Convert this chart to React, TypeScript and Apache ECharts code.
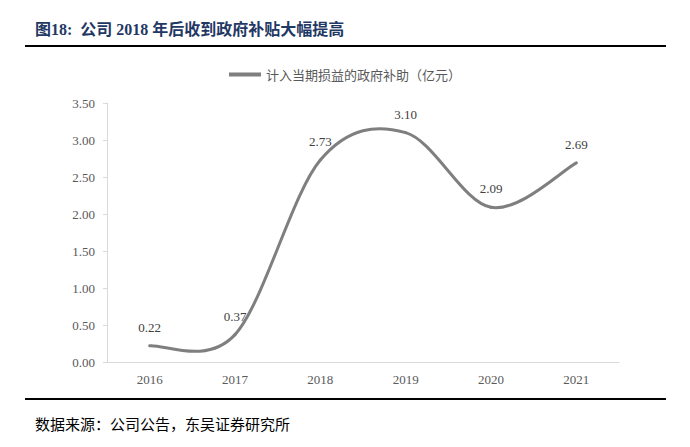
import React, { useEffect, useRef } from "react";
import * as echarts from "echarts";

const years = ["2016", "2017", "2018", "2019", "2020", "2021"];
const subsidy = [0.22, 0.37, 2.73, 3.1, 2.09, 2.69];
const seriesName = "计入当期损益的政府补助（亿元）";
const titleText = "图18:  公司 2018 年后收到政府补贴大幅提高";
const sourceText = "数据来源：公司公告，东吴证券研究所";

export default function App() {
  const ref = useRef<HTMLDivElement>(null);
  useEffect(() => {
    if (!ref.current) return;
    const chart = echarts.init(ref.current, null, { renderer: "svg" });
    const serif = "'Liberation Serif', 'Times New Roman', 'Noto Sans CJK SC', serif";
    const n = subsidy.length;
    chart.setOption({
      animation: false,
      backgroundColor: "#ffffff",
      grid: { left: 107, right: 71, top: 103, bottom: 85 },
      legend: {
        top: 63,
        left: "center",
        itemWidth: 32,
        itemHeight: 4,
        itemGap: 4,
        icon: "rect",
        textStyle: { fontFamily: "'Noto Sans CJK SC', sans-serif", fontSize: 13, color: "#595959" },
        data: [{ name: seriesName, itemStyle: { color: "#7f7f7f", opacity: 1 } }],
      },
      xAxis: {
        type: "category",
        data: years,
        axisLine: { lineStyle: { color: "#d9d9d9" } },
        axisTick: { show: false },
        axisLabel: { fontFamily: serif, fontSize: 13, color: "#595959", margin: 11 },
      },
      yAxis: {
        type: "value",
        min: 0,
        max: 3.5,
        interval: 0.5,
        axisLine: { show: true, lineStyle: { color: "#d9d9d9" } },
        axisTick: { show: true, length: 4, lineStyle: { color: "#d9d9d9" } },
        splitLine: { show: false },
        axisLabel: {
          fontFamily: serif,
          fontSize: 13,
          color: "#595959",
          margin: 12,
          formatter: (v: number) => v.toFixed(2),
        },
      },
      series: [
        {
          name: "curve",
          type: "custom",
          data: subsidy.map((v, i) => [i, v]),
          encode: { x: 0, y: 1 },
          renderItem: (params: any, api: any) => {
            const i = params.dataIndex;
            if (i >= n - 1) return null;
            const pt = (k: number) => {
              const kk = Math.max(0, Math.min(n - 1, k));
              return api.coord([kk, subsidy[kk]]);
            };
            const p0 = pt(i - 1);
            const p1 = pt(i);
            const p2 = pt(i + 1);
            const p3 = pt(i + 2);
            const c1 = [p1[0] + (p2[0] - p0[0]) / 6, p1[1] + (p2[1] - p0[1]) / 6];
            const c2 = [p2[0] - (p3[0] - p1[0]) / 6, p2[1] - (p3[1] - p1[1]) / 6];
            return {
              type: "bezierCurve",
              shape: {
                x1: p1[0],
                y1: p1[1],
                cpx1: c1[0],
                cpy1: c1[1],
                cpx2: c2[0],
                cpy2: c2[1],
                x2: p2[0],
                y2: p2[1],
              },
              style: { stroke: "#7f7f7f", lineWidth: 3, fill: "none", lineCap: "round" },
              silent: true,
            };
          },
          z: 2,
        },
        {
          name: seriesName,
          type: "line",
          data: subsidy,
          symbol: "circle",
          symbolSize: 0,
          showSymbol: true,
          lineStyle: { color: "#7f7f7f", width: 3, opacity: 0 },
          itemStyle: { color: "rgba(0,0,0,0)" },
          label: {
            show: true,
            position: "top",
            distance: 12,
            fontFamily: serif,
            fontSize: 13,
            color: "#404040",
            formatter: (p: any) => Number(p.value).toFixed(2),
          },
          z: 3,
        },
      ],
      graphic: [
        {
          type: "text",
          left: 35,
          top: 21,
          style: {
            text: titleText,
            font: "bold 16px 'Liberation Serif', 'Noto Sans CJK SC', serif",
            fill: "#1f3864",
          },
        },
        {
          type: "line",
          shape: { x1: 25, y1: 46, x2: 666, y2: 46 },
          style: { stroke: "#000000", lineWidth: 2 },
        },
        {
          type: "line",
          shape: { x1: 25, y1: 399, x2: 666, y2: 399 },
          style: { stroke: "#000000", lineWidth: 2 },
        },
        {
          type: "text",
          left: 35,
          top: 416,
          style: {
            text: sourceText,
            font: "15px 'Noto Sans CJK SC', serif",
            fill: "#000000",
          },
        },
      ],
    });
    return () => chart.dispose();
  }, []);
  return (
    <div
      ref={ref}
      style={{ position: "fixed", left: 0, top: 0, width: 690, height: 447 }}
    />
  );
}
